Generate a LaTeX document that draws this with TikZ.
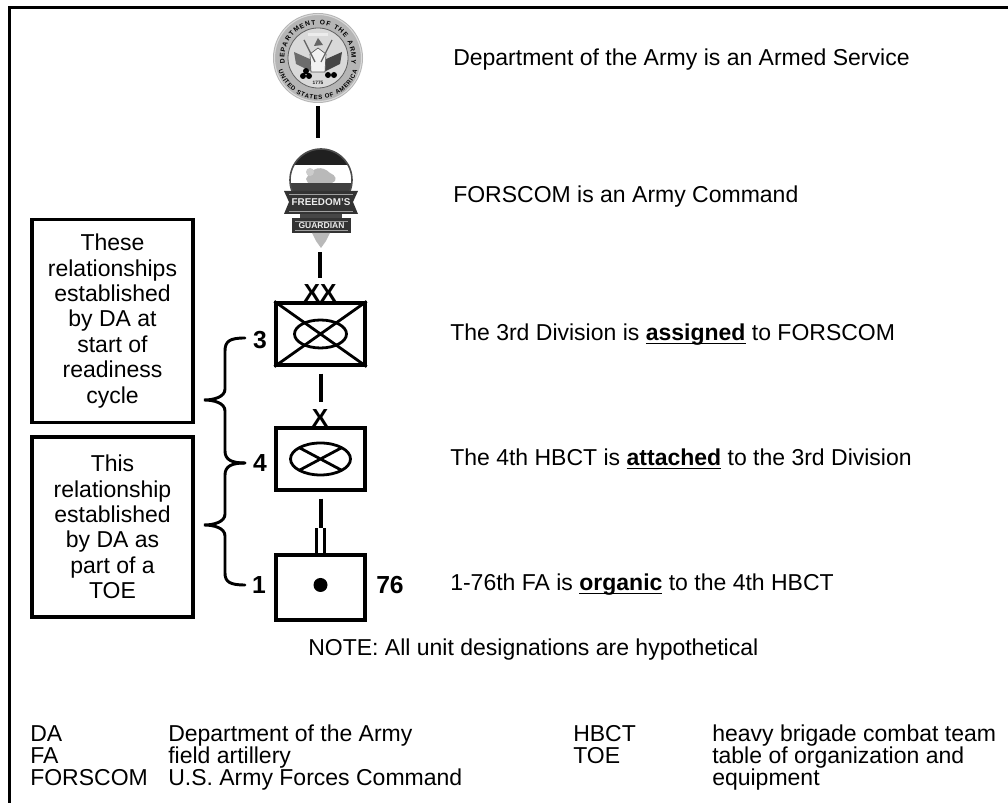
\documentclass[tikz,border=0pt]{standalone}
\usepackage{fontspec}
\setmainfont{Liberation Sans}
\usetikzlibrary{decorations.text,calc}
\newcommand\myul[1]{\setbox0\hbox{#1}\rlap{\rule[-2.4pt]{\wd0}{1.1pt}}\box0\relax}
\begin{document}
\begin{tikzpicture}[x=0.75pt,y=0.75pt,
  txt/.style={font=\fontsize{17.25}{19.1}\selectfont, inner sep=0pt},
  num/.style={font=\fontsize{18.5}{20}\selectfont\bfseries, inner sep=0pt},
  conn/.style={line width=3pt},
  tickline/.style={line width=2.6pt},
  symbox/.style={draw, line width=2.5pt, inner sep=0pt, minimum width=66.75pt},
  symline/.style={line width=2.1pt},
  leftbox/.style={draw, line width=2.4pt, inner sep=0pt, align=center, minimum width=120.75pt, font=\fontsize{17.25}{19.1}\selectfont},
  bracepath/.style={line width=2.2pt, line cap=round},
  emb/.style={inner sep=0pt, minimum width=54pt, minimum height=75pt}
]
\useasboundingbox (0,0) rectangle (1008,803);
\fill[white] (0,0) rectangle (1008,803);
% frame
\draw[line width=2.4pt] (9.5,0) -- (9.5,795.5) -- (1008,795.5);

% ---------- Department of the Army seal ----------
\node[circle, inner sep=0pt, minimum size=67.5pt] (seal) at (318,745) {};
\fill[gray!58] (seal.center) circle (45);
\draw[gray!30, line width=0.8pt] (seal.center) circle (43.5);
\fill[gray!30] (seal.center) circle (30);
\draw[gray!75!black, line width=0.6pt] (seal.center) circle (30);
\path[color=gray!15!black, decorate, decoration={text along path, text align={fit to path},
  text={|\fontsize{5}{6}\selectfont\bfseries|DEPARTMENT OF THE ARMY}}]
  ($(seal.center)+(190:33.5)$) arc (190:-10:33.5);
\path[color=gray!15!black, decorate, decoration={text along path, text align={fit to path},
  text={|\fontsize{4.6}{5}\selectfont\bfseries|UNITED STATES OF AMERICA}}]
  ($(seal.center)+(198:41.5)$) arc (198:342:41.5);
% inner design
\begin{scope}[shift={(seal.center)}]
  \fill[gray!85!black] (-24,6) -- (-6,-2) -- (-6,-14) -- (-22,-6) -- cycle;
  \fill[gray!55!black] (24,6) -- (6,-2) -- (6,-14) -- (22,-6) -- cycle;
  \fill[gray!10] (-7,-14) -- (-8,4) -- (0,10) -- (8,4) -- (7,-14) -- cycle;
  \draw[gray!70!black, line width=0.5pt] (-7,-14) -- (-8,4) -- (0,10) -- (8,4) -- (7,-14) -- cycle;
  \fill[gray!80!black] (-4,12) -- (0,20) -- (5,13) -- cycle;
  \draw[gray!80!black, line width=1pt] (-14,18) -- (-3,-4) (14,18) -- (3,-4);
  \fill[gray!15] (-10,22) rectangle (10,25);
  \fill[black] (-15,-18) circle (3) (-9,-18) circle (3) (-12,-13) circle (3);
  \fill[black] (10,-17) circle (3) (16,-17) circle (3);
  \node[font=\fontsize{3.6}{4}\selectfont\bfseries, text=gray!20!black, inner sep=0pt] (yr) at (0,-24.5) {1775};
\end{scope}

% ---------- FORSCOM emblem ----------
\node[emb] (emb) at (320,605) {};
\begin{scope}
  \clip (321,623) circle (31);
  \fill[gray!25!black] (280,638) rectangle (360,660);
  \fill[white] (280,620) rectangle (360,638);
  \fill[gray!50!black] (280,580) rectangle (360,620);
  \fill[gray!55] (306,624) .. controls (312,636) and (322,638) .. (330,630)
     .. controls (336,628) and (338,622) .. (332,620) -- (308,620) -- cycle;
  \fill[gray!40] (310,631) circle (4);
\end{scope}
\draw[gray!60!black, line width=1.2pt] (321,623) circle (31);
\fill[gray!40!black] (284,612) -- (358,612) -- (353,601) -- (358,589) -- (284,589) -- (289,601) -- cycle;
\draw[gray!75, line width=0.6pt] (289,609) -- (353,609) (289,592) -- (353,592);
\node[font=\fontsize{7.4}{8}\selectfont\bfseries, text=gray!15, inner sep=0pt] (fr) at (321,600.5) {FREEDOM'S};
\fill[gray!55!black] (300,589) rectangle (342,585);
\fill[gray!40!black] (292,585) -- (351,585) -- (351,570) -- (292,570) -- cycle;
\draw[gray!75, line width=0.6pt] (295,582) -- (348,582) (295,573) -- (348,573);
\node[font=\fontsize{6.4}{7}\selectfont\bfseries, text=gray!15, inner sep=0pt] (gd) at (321.5,577.5) {GUARDIAN};
\fill[gray!55] (312,570) -- (330,570) -- (326,562) -- (321,555) -- (316,562) -- cycle;

% ---------- unit symbols ----------
\node[symbox, minimum height=46.5pt] (div) at (320.5,469) {};
\node[symbox, minimum height=46.5pt] (bde) at (320.5,344) {};
\node[symbox, minimum height=48.75pt] (bn) at (320.5,215.5) {};

\draw[symline] (div.north west) -- (div.south east) (div.north east) -- (div.south west);
\draw[symline] (div.center) ellipse (26 and 14);
\draw[symline] (bde.center) ellipse (30 and 16);
\draw[symline] ($(bde.center)+(-21.2,11.3)$) -- ($(bde.center)+(21.2,-11.3)$)
               ($(bde.center)+(-21.2,-11.3)$) -- ($(bde.center)+(21.2,11.3)$);
\fill ($(bn.center)+(0,2.5)$) circle (7);

\node[num] (xx) at (320,510) {XX};
\node[num] (x1) at (320,385) {X};
\node[num] (n3) at (260,463) {3};
\node[num] (n4) at (260,340) {4};
\node[num] (n1) at (259,218) {1};
\node[num] (n76) at (390,218) {76};

% connectors
\draw[conn, shorten <=2.25pt, shorten >=7.5pt] (seal.south) -- (seal.south |- emb.north);
\draw[conn, shorten <=3pt, shorten >=17.25pt] (emb.south) -- (emb.south |- div.north);
\draw[conn, shorten <=5.25pt, shorten >=18pt] (div.south) -- (bde.north);
\draw[conn, shorten <=5.25pt, shorten >=18.75pt] (bde.south) -- (bn.north);
\draw[tickline] ($(bn.north)+(-3.8,0)$) -- ++(0,25);
\draw[tickline] ($(bn.north)+(3.8,0)$) -- ++(0,25);

% braces
\coordinate (b3) at (245,465);
\coordinate (b4) at (245,340);
\coordinate (b1) at (245,218);
\coordinate (tipA) at (204,403);
\coordinate (tipB) at (204,278);
\draw[bracepath] (b3) .. controls (230,465) and (225,462) .. (225,452) -- (225,414)
  .. controls (225,406) and (214,403) .. (tipA)
  .. controls (214,403) and (225,400) .. (225,392) -- (225,352)
  .. controls (225,343) and (232,340) .. (b4);
\draw[bracepath] (b4) .. controls (232,340) and (225,337) .. (225,328) -- (225,289)
  .. controls (225,281) and (214,278) .. (tipB)
  .. controls (214,278) and (225,275) .. (225,267) -- (225,230)
  .. controls (225,221) and (230,218) .. (b1);

% left boxes
\node[leftbox, minimum height=152.25pt] (lb1) at (112.5,482)
  {These\\relationships\\established\\by DA at\\start of\\readiness\\cycle};
\node[leftbox, minimum height=135pt] (lb2) at (112.5,276)
  {This\\relationship\\established\\by DA as\\part of a\\TOE};

% right texts
\node[txt, anchor=base west] (r1) at (453,737) {Department of the Army is an Armed Service};
\node[txt, anchor=base west] (r2) at (453,600) {FORSCOM is an Army Command};
\node[txt, anchor=base west] (r3) at (450,462) {The 3rd Division is \myul{\textbf{assigned}} to FORSCOM};
\node[txt, anchor=base west] (r4) at (450,337) {The 4th HBCT is \myul{\textbf{attached}} to the 3rd Division};
\node[txt, anchor=base west] (r5) at (450,212) {1-76th FA is \myul{\textbf{organic}} to the 4th HBCT};
\node[txt, anchor=base west] (note) at (308,147) {NOTE: All unit designations are hypothetical};

% glossary
\node[txt, anchor=base west] (g1a) at (30,61) {DA};
\node[txt, anchor=base west] (g1b) at (168,61) {Department of the Army};
\node[txt, anchor=base west] (g2a) at (30,39) {FA};
\node[txt, anchor=base west] (g2b) at (168,39) {field artillery};
\node[txt, anchor=base west] (g3a) at (30,17) {FORSCOM};
\node[txt, anchor=base west] (g3b) at (168,17) {U.S. Army Forces Command};
\node[txt, anchor=base west] (g4a) at (573,61) {HBCT};
\node[txt, anchor=base west] (g4b) at (712,61) {heavy brigade combat team};
\node[txt, anchor=base west] (g5a) at (573,39) {TOE};
\node[txt, anchor=base west] (g5b) at (712,39) {table of organization and};
\node[txt, anchor=base west] (g6b) at (712,17) {equipment};
\end{tikzpicture}
\end{document}
